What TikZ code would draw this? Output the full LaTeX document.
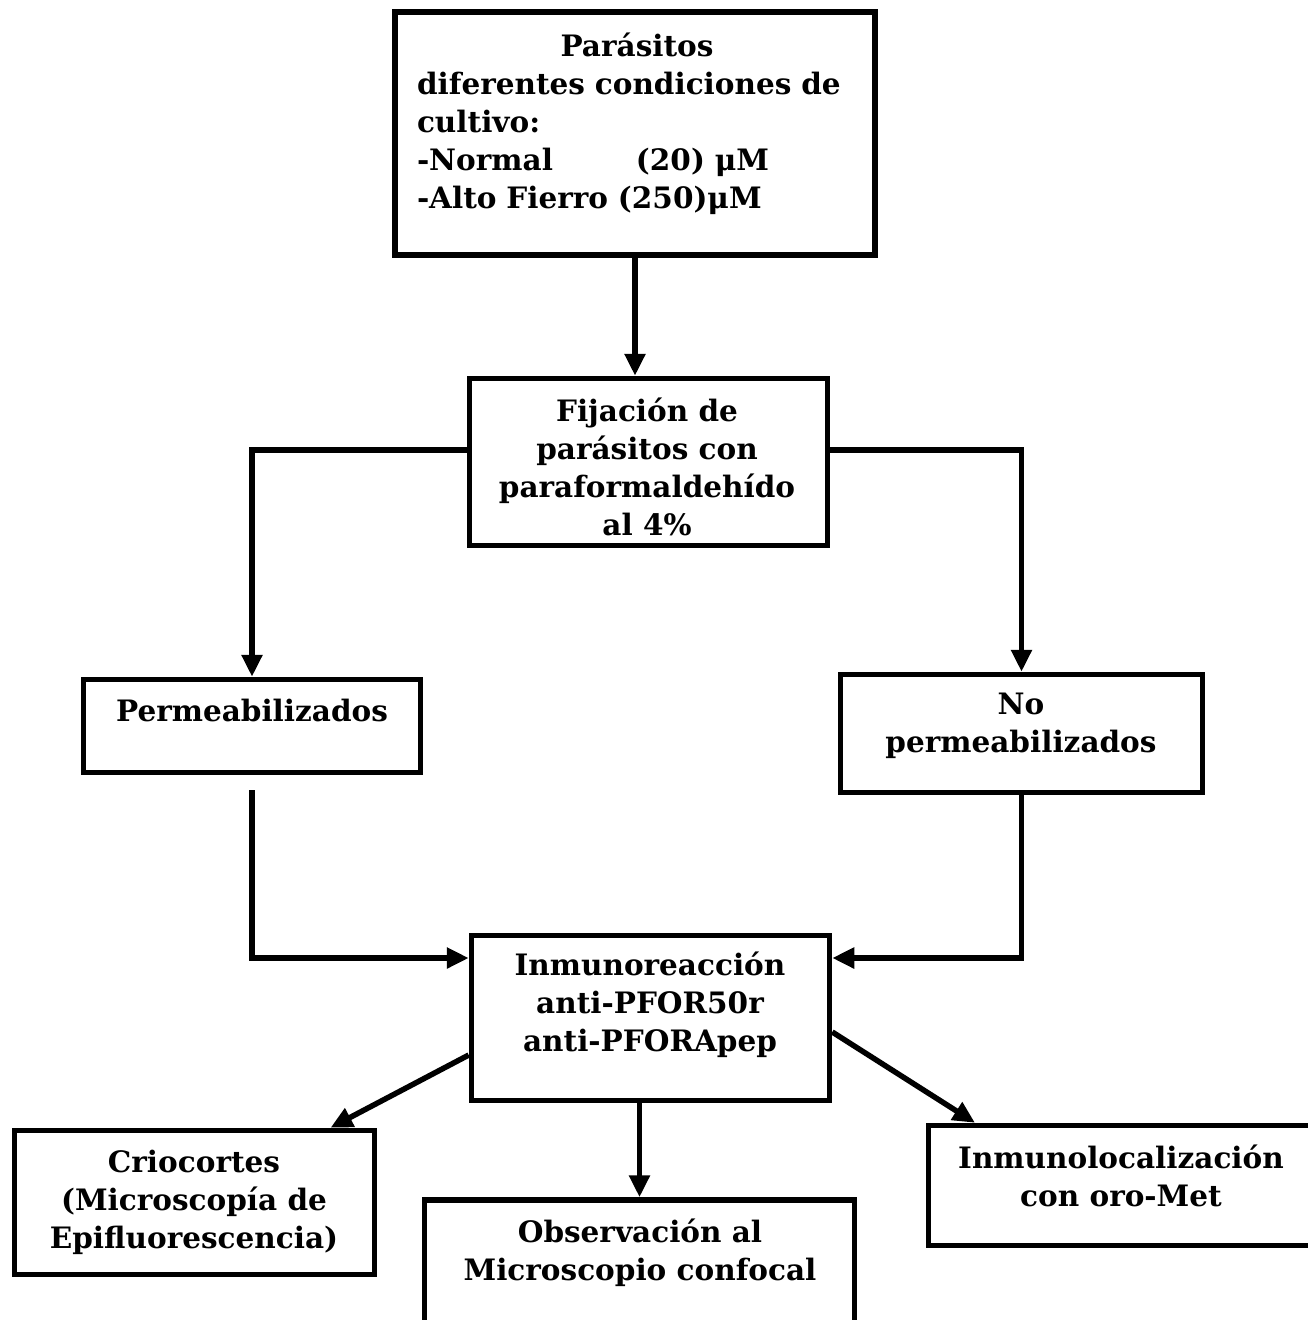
\documentclass[tikz,border=0pt]{standalone}
\usepackage{fontspec}
\setmainfont{DejaVu Serif}
\usetikzlibrary{arrows.meta}
\begin{document}
\begin{tikzpicture}[x=1pt,y=-1pt,
  box/.style={draw, line width=5.5pt, inner sep=0pt},
  lbl/.style={font=\bfseries\fontsize{29.5}{38}\selectfont, align=center, inner sep=0pt},
  conn/.style={line width=5.5pt, -{Triangle[length=22pt,width=20pt]}}]
\useasboundingbox[fill=white] (0,0) rectangle (1308,1320);
% boxes
\node[box, minimum width=480pt, minimum height=243pt] (top) at (635,133.5) {};
\node[box, minimum width=358pt, minimum height=167pt] (fij) at (648.5,462) {};
\node[box, minimum width=337pt, minimum height=93pt] (perm) at (252,726) {};
\node[box, minimum width=362pt, minimum height=118pt] (noperm) at (1021.5,733.5) {};
\node[box, minimum width=358pt, minimum height=165pt] (inm) at (650.5,1018) {};
\node[box, minimum width=360pt, minimum height=144pt] (crio) at (194.5,1202.5) {};
\node[box, minimum width=430pt, minimum height=128pt] (obs) at (639.5,1264) {};
\node[box, minimum width=387pt, minimum height=120pt] (loc) at (1122,1185.5) {};
% texts
\node[lbl, text width=440pt, align=left] (topT) at (637,124) {\makebox[440pt]{Parásitos}\\diferentes condiciones de\\cultivo:\\\makebox[219pt][l]{-Normal}(20) μM\\-Alto Fierro (250)μM};
\node[lbl] (fijT) at (647,467) {Fijación de\\parásitos con\\paraformaldehído\\al 4\%};
\node[lbl] (permT) at (252,710) {Permeabilizados};
\node[lbl] (nopermT) at (1021,726) {No\\permeabilizados};
\node[lbl] (inmT) at (650,1005) {Inmunoreacción\\anti-PFOR50r\\anti-PFORApep};
\node[lbl] (crioT) at (194,1202) {Criocortes\\(Microscopía de\\Epifluorescencia)};
\node[lbl] (obsT) at (640,1253) {Observación al\\Microscopio confocal};
\node[lbl] (locT) at (1121,1176) {Inmunolocalización\\con oro-Met};
% connectors
\draw[conn] (top.south) -- (top.south |- fij.north);
\draw[conn] ([yshift=12pt]fij.west) -| (perm.north);
\draw[conn] ([yshift=12pt]fij.east) -| (noperm.north);
\draw[conn] ([yshift=-15pt]perm.south) |- ([yshift=60pt]inm.west);
\draw[conn] (noperm.south) |- ([yshift=60pt]inm.east);
\draw[conn] ([yshift=-37pt]inm.west) -- ([xshift=136pt]crio.north);
\draw[conn] (inm.south -| obs.north) -- (obs.north);
\draw[conn] ([yshift=-14pt]inm.east) -- ([xshift=-147pt]loc.north);
\end{tikzpicture}
\end{document}
